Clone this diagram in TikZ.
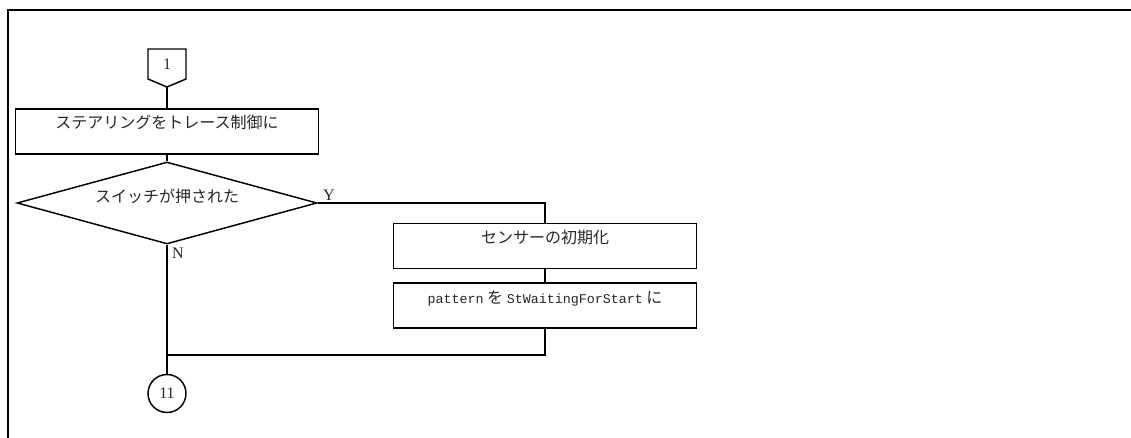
\documentclass[tikz,border=0pt]{standalone}
\usepackage{fontspec}
\setmainfont{Noto Sans CJK JP}
\setmonofont{Liberation Mono}
\newfontfamily\lblfont{Liberation Serif}
\usetikzlibrary{positioning, shapes.geometric}

\begin{document}
\begin{tikzpicture}[x=0.75pt, y=-0.75pt,
    proc/.style={rectangle, draw, line width=1.1pt, minimum width=227.25pt,
                 minimum height=33.75pt, inner sep=0pt, text=black!85,
                 font=\fontsize{12pt}{14pt}\selectfont, text height=9pt, text depth=12.75pt},
    dec/.style={diamond, draw, line width=1.1pt, aspect=3.66, minimum width=225pt,
                minimum height=61.5pt, inner sep=0pt, text=black!85,
                font=\fontsize{12pt}{14pt}\selectfont, text height=9pt, text depth=9.75pt},
    cn/.style={circle, draw, line width=1.1pt, minimum size=28.5pt, inner sep=0pt,
               text=black!85, font=\lblfont\fontsize{12pt}{14pt}\selectfont},
    lbl/.style={inner sep=0pt, text=black!85, font=\lblfont\fontsize{12pt}{14pt}\selectfont},
    shp/.style={line width=1.1pt, line join=miter},
    ln/.style={line width=0.8pt},
    frm/.style={line width=1.6pt}]
  \useasboundingbox (0,0) rectangle (1131,438);
  \draw[frm] (8,438) -- (8,10) -- (1131,10);

  % off-page connector
  \node[lbl] (p1) at (167,64) {1};
  \draw[shp] ([shift={(-19,-15)}]p1.center) -- ++(38,0) -- ++(0,30) -- ++(-19,8)
    -- ++(-19,-8) -- cycle;
  \coordinate (p1tip) at ([shift={(0,23)}]p1.center);

  \node[proc] (init) at (167,131.5) {ステアリングをトレース制御に};
  \node[dec] (sw) at (167,203) {スイッチが押された};
  \node[proc] (s1) at (545,246) {センサーの初期化};
  \node[proc] (s2) at (545,305.5) {{\ttfamily\fontsize{10pt}{12pt}\selectfont pattern} を
    {\ttfamily\fontsize{10pt}{12pt}\selectfont StWaitingForStart} に};
  \node[cn] (c11) at (167,393.5) {11};
  \coordinate (jn) at (167,355);

  \node[lbl] (ylab) at (329,195) {Y};
  \node[lbl] (nlab) at (178,253) {N};

  \draw[ln] (p1tip) -- (init);
  \draw[ln] (init) -- (sw);
  \draw[ln] (sw.east) -| (s1.north);
  \draw[ln] (s1) -- (s2);
  \draw[ln] (sw.south) -- (c11);
  \draw[ln] (s2.south) |- (jn);
\end{tikzpicture}
\end{document}
